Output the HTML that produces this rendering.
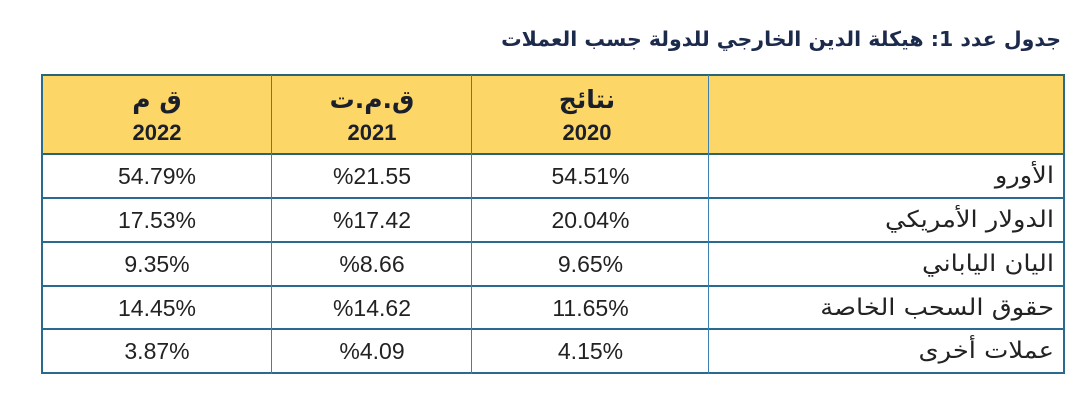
<!DOCTYPE html>
<html>
<head>
<meta charset="utf-8">
<style>
  html,body{margin:0;padding:0;background:#fff;}
  body{width:1080px;height:403px;position:relative;overflow:hidden;font-family:"Liberation Sans","DejaVu Sans",sans-serif;}
  .abs{position:absolute;}
  .hl{position:absolute;height:2px;background:#2a6a8f;left:41px;width:1024px;}
  .vl{position:absolute;width:2px;background:#3b80b0;top:75px;height:299px;}
  .val{position:absolute;font-family:"Liberation Sans",sans-serif;font-size:23px;color:#222;text-align:center;direction:ltr;line-height:44px;height:44px;}
  .lab{position:absolute;font-family:"DejaVu Sans",sans-serif;font-size:23px;color:#222;direction:rtl;text-align:right;right:26px;line-height:44px;height:44px;width:360px;transform:scaleX(1.12);transform-origin:right center;}
  .hd1{position:absolute;font-family:"DejaVu Sans",sans-serif;font-weight:bold;font-size:25px;color:#1a1f2b;text-align:center;direction:rtl;top:85px;line-height:30px;}
  .hd2{position:absolute;font-family:"Liberation Sans",sans-serif;font-weight:bold;font-size:22px;color:#1a1f2b;text-align:center;top:118px;line-height:30px;}
</style>
</head>
<body>
  <div class="abs" style="right:19px;top:24px;font-family:'DejaVu Sans',sans-serif;font-weight:bold;font-size:20.5px;color:#1c2a4c;direction:rtl;white-space:nowrap;line-height:30px;">جدول عدد 1: هيكلة الدين الخارجي للدولة جسب العملات</div>

  <!-- header background -->
  <div class="abs" style="left:42px;top:75px;width:1022px;height:79px;background:#fcd667;"></div>

  <!-- horizontal lines -->
  <div class="hl" style="top:74px;background:#2b6473;"></div>
  <div class="hl" style="top:153px;background:#2b6473;"></div>
  <div class="hl" style="top:197px;"></div>
  <div class="hl" style="top:241px;"></div>
  <div class="hl" style="top:285px;"></div>
  <div class="hl" style="top:328px;"></div>
  <div class="hl" style="top:372px;"></div>

  <!-- vertical lines -->
  <div class="vl" style="left:41px;background:#2a6a8f;"></div>
  <div class="vl" style="left:271px;width:1px;"></div>
  <div class="vl" style="left:471px;width:1px;"></div>
  <div class="vl" style="left:708px;width:1px;"></div>
  <div class="vl" style="left:1063px;background:#2a6a8f;"></div>

  <!-- header texts -->
  <div class="hd1" style="left:42px;width:230px;">ق م</div>
  <div class="hd2" style="left:42px;width:230px;">2022</div>
  <div class="hd1" style="left:272px;width:200px;">ق.م.ت</div>
  <div class="hd2" style="left:272px;width:200px;">2021</div>
  <div class="hd1" style="left:472px;width:230px;">نتائج</div>
  <div class="hd2" style="left:472px;width:230px;">2020</div>

  <!-- rows -->
  <div class="val" style="left:42px;width:230px;top:154px;">54.79%</div>
  <div class="val" style="left:272px;width:200px;top:154px;">%21.55</div>
  <div class="val" style="left:472px;width:237px;top:154px;">54.51%</div>
  <div class="lab" style="top:154px;">الأورو</div>

  <div class="val" style="left:42px;width:230px;top:198px;">17.53%</div>
  <div class="val" style="left:272px;width:200px;top:198px;">%17.42</div>
  <div class="val" style="left:472px;width:237px;top:198px;">20.04%</div>
  <div class="lab" style="top:198px;">الدولار الأمريكي</div>

  <div class="val" style="left:42px;width:230px;top:242px;">9.35%</div>
  <div class="val" style="left:272px;width:200px;top:242px;">%8.66</div>
  <div class="val" style="left:472px;width:237px;top:242px;">9.65%</div>
  <div class="lab" style="top:242px;">اليان الياباني</div>

  <div class="val" style="left:42px;width:230px;top:286px;">14.45%</div>
  <div class="val" style="left:272px;width:200px;top:286px;">%14.62</div>
  <div class="val" style="left:472px;width:237px;top:286px;">11.65%</div>
  <div class="lab" style="top:286px;">حقوق السحب الخاصة</div>

  <div class="val" style="left:42px;width:230px;top:329px;">3.87%</div>
  <div class="val" style="left:272px;width:200px;top:329px;">%4.09</div>
  <div class="val" style="left:472px;width:237px;top:329px;">4.15%</div>
  <div class="lab" style="top:329px;">عملات أخرى</div>
</body>
</html>
